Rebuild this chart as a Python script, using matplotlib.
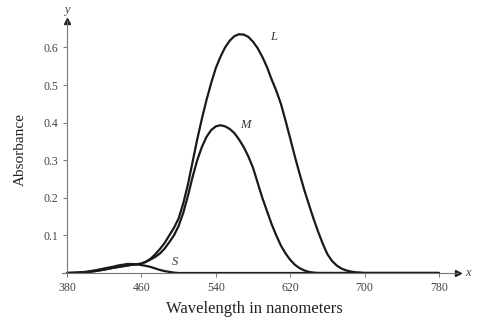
import matplotlib
matplotlib.use("Agg")
import matplotlib.pyplot as plt

plt.rcParams.update({
    "font.family": ["Liberation Serif", "DejaVu Serif"],
    "font.size": 9,
})

# absorbance curves (wavelength nm -> absorbance)
wl_L = [380, 390, 400, 410, 420, 430, 440, 445, 450, 455, 460, 465, 470, 475,
        480, 485, 490, 495, 500, 505, 510, 515, 520, 525, 530, 535, 540, 545,
        550, 555, 560, 565, 570, 575, 580, 585, 590, 595, 600, 605, 610, 615,
        620, 625, 630, 635, 640, 645, 650, 655, 660, 665, 670, 675, 680, 685,
        690, 695, 700, 780]
abs_L = [0.0, 0.0005, 0.002, 0.005, 0.009, 0.014, 0.018, 0.02, 0.022, 0.023,
         0.025, 0.03, 0.038, 0.05, 0.064, 0.08, 0.10, 0.12, 0.145, 0.185, 0.235,
         0.295, 0.355, 0.41, 0.46, 0.505, 0.545, 0.575, 0.60, 0.618, 0.63,
         0.635, 0.634, 0.628, 0.615, 0.598, 0.575, 0.548, 0.515, 0.485, 0.45,
         0.405, 0.358, 0.31, 0.265, 0.222, 0.183, 0.145, 0.11, 0.078, 0.05,
         0.032, 0.02, 0.012, 0.007, 0.004, 0.002, 0.001, 0.0, 0.0]

wl_M = [380, 390, 400, 410, 420, 430, 440, 450, 460, 465, 470, 475, 480, 485,
        490, 495, 500, 505, 510, 515, 520, 525, 530, 535, 540, 545, 550, 555,
        560, 565, 570, 575, 580, 585, 590, 595, 600, 605, 610, 615, 620, 625,
        630, 635, 640, 645, 650, 780]
abs_M = [0.0, 0.0005, 0.002, 0.005, 0.009, 0.014, 0.018, 0.022, 0.025, 0.03,
         0.036, 0.043, 0.052, 0.065, 0.082, 0.10, 0.125, 0.16, 0.205, 0.255,
         0.30, 0.335, 0.362, 0.38, 0.39, 0.393, 0.39, 0.383, 0.372, 0.355,
         0.335, 0.31, 0.28, 0.24, 0.20, 0.165, 0.13, 0.10, 0.073, 0.052, 0.035,
         0.022, 0.013, 0.007, 0.003, 0.001, 0.0, 0.0]

wl_S = [380, 390, 400, 410, 420, 430, 435, 440, 445, 450, 455, 460, 465, 470,
        475, 480, 485, 490, 495, 500, 780]
abs_S = [0.0, 0.001, 0.003, 0.007, 0.012, 0.017, 0.02, 0.022, 0.024, 0.024,
         0.023, 0.021, 0.019, 0.016, 0.012, 0.008, 0.005, 0.003, 0.001, 0.0, 0.0]

x_ticks = [380, 460, 540, 620, 700, 780]
y_ticks = [0.1, 0.2, 0.3, 0.4, 0.5, 0.6]

fig = plt.figure(figsize=(4.88, 3.22), dpi=100)
x0, x1 = 375, 800
y0, y1 = 0, 0.67
ax = fig.add_axes([(67 - 5 * 0.93) / 488, 49 / 322, (x1 - x0) * 0.93 / 488, y1 * 376 / 322])

for wl, a in [(wl_L, abs_L), (wl_M, abs_M), (wl_S, abs_S)]:
    ax.plot(wl, a, color="#1a1a1a", lw=1.6, solid_capstyle="round",
            solid_joinstyle="round")

ax.set_xlim(x0, x1)
ax.set_ylim(y0, y1)
for s in ["top", "right"]:
    ax.spines[s].set_visible(False)
ax.spines["left"].set_position(("data", 380))
ax.spines["bottom"].set_position(("data", 0))
for s in ["left", "bottom"]:
    ax.spines[s].set_color("#777777")
    ax.spines[s].set_linewidth(0.8)

ax.set_xticks(x_ticks)
ax.set_yticks(y_ticks)
ax.set_yticklabels([f"{v:.1f}" for v in y_ticks])
ax.tick_params(direction="out", length=3, width=0.7, colors="#777777",
               labelcolor="#444444", labelsize=8.5)

# axis arrows
ax.plot([x1], [0], marker=">", color="#222222", ms=5, clip_on=False)
ax.plot([380], [y1], marker="^", color="#222222", ms=5, clip_on=False)
ax.text(x1 + 8, 0, "x", style="italic", fontsize=9, va="center", ha="left", color="#444444")
ax.text(380, y1 + 0.03, "y", style="italic", fontsize=9, va="center", ha="center", color="#444444")

# curve labels
ax.text(598, 0.62, "L", style="italic", fontsize=9, color="#333333")
ax.text(566, 0.385, "M", style="italic", fontsize=9, color="#333333")
ax.text(493, 0.022, "S", style="italic", fontsize=9, color="#333333")

ax.set_xlabel("Wavelength in nanometers", fontsize=12, color="#222222")
ax.set_ylabel("Absorbance", fontsize=11, color="#222222")
ax.xaxis.set_label_coords(0.487, -0.11)
ax.yaxis.set_label_coords(-0.09, 0.49)

fig.savefig("out.png", dpi=100)
